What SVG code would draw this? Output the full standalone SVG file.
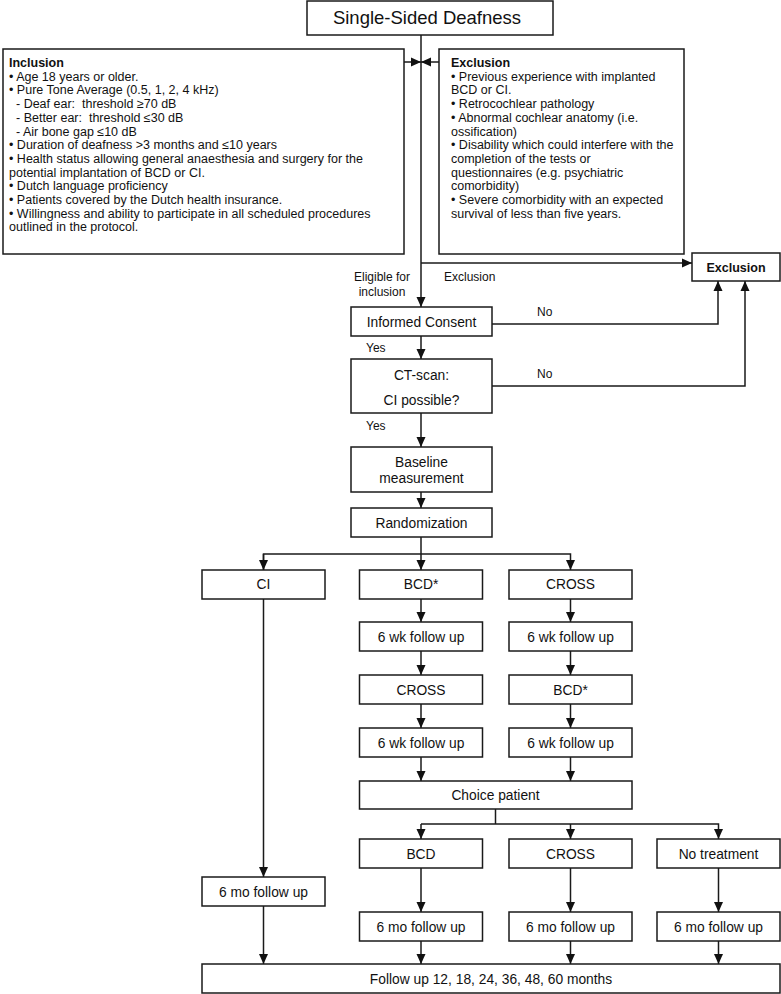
<svg xmlns="http://www.w3.org/2000/svg" width="781" height="994" viewBox="0 0 781 994">
<style>
.box{fill:#fff;stroke:#1a1a1a;stroke-width:1.5}
.c{fill:none;stroke:#1a1a1a;stroke-width:1.5}
text{font-family:"Liberation Sans",Arial,sans-serif;fill:#111}
.t{font-size:13.8px;text-anchor:middle}
.s{font-size:12.5px;white-space:pre}
.l{font-size:12px}
.b{font-weight:bold}
</style>
<defs>
<marker id="ah" markerUnits="userSpaceOnUse" markerWidth="10" markerHeight="10" viewBox="0 0 10 10" refX="10" refY="5" orient="auto">
<path d="M0,0.5 L10,5 L0,9.5 Z" fill="#111"/>
</marker>
</defs>
<g id="connectors">
<line class="c" x1="421" y1="35" x2="421" y2="307" marker-end="url(#ah)"/>
<line class="c" x1="404" y1="62" x2="421" y2="62" marker-end="url(#ah)"/>
<line class="c" x1="439" y1="62" x2="421" y2="62" marker-end="url(#ah)"/>
<line class="c" x1="421" y1="263" x2="692" y2="263" marker-end="url(#ah)"/>
<polyline class="c" points="492,324 718,324 718,281" marker-end="url(#ah)"/>
<polyline class="c" points="492,386 745,386 745,281" marker-end="url(#ah)"/>
<line class="c" x1="421" y1="336" x2="421" y2="359" marker-end="url(#ah)"/>
<line class="c" x1="421" y1="413" x2="421" y2="447" marker-end="url(#ah)"/>
<line class="c" x1="421" y1="492" x2="421" y2="508" marker-end="url(#ah)"/>
<polyline class="c" points="421,537 421,554"/>
<polyline class="c" points="263.5,570 263.5,554 570.5,554 570.5,570" marker-end="url(#ah)"/>
<line class="c" x1="263.5" y1="554" x2="263.5" y2="570" marker-end="url(#ah)"/>
<line class="c" x1="421" y1="554" x2="421" y2="570" marker-end="url(#ah)"/>
<line class="c" x1="263.5" y1="599" x2="263.5" y2="877" marker-end="url(#ah)"/>
<line class="c" x1="263.5" y1="906" x2="263.5" y2="964" marker-end="url(#ah)"/>
<line class="c" x1="421" y1="599" x2="421" y2="622" marker-end="url(#ah)"/>
<line class="c" x1="421" y1="651" x2="421" y2="675" marker-end="url(#ah)"/>
<line class="c" x1="421" y1="704" x2="421" y2="728" marker-end="url(#ah)"/>
<line class="c" x1="421" y1="757" x2="421" y2="781" marker-end="url(#ah)"/>
<line class="c" x1="570.5" y1="599" x2="570.5" y2="622" marker-end="url(#ah)"/>
<line class="c" x1="570.5" y1="651" x2="570.5" y2="675" marker-end="url(#ah)"/>
<line class="c" x1="570.5" y1="704" x2="570.5" y2="728" marker-end="url(#ah)"/>
<line class="c" x1="570.5" y1="757" x2="570.5" y2="781" marker-end="url(#ah)"/>
<polyline class="c" points="495.5,809 495.5,824"/>
<polyline class="c" points="421,824 718.5,824 718.5,839" marker-end="url(#ah)"/>
<line class="c" x1="421" y1="824" x2="421" y2="839" marker-end="url(#ah)"/>
<line class="c" x1="570.5" y1="824" x2="570.5" y2="839" marker-end="url(#ah)"/>
<line class="c" x1="421" y1="868" x2="421" y2="912" marker-end="url(#ah)"/>
<line class="c" x1="570.5" y1="868" x2="570.5" y2="912" marker-end="url(#ah)"/>
<line class="c" x1="718.5" y1="868" x2="718.5" y2="912" marker-end="url(#ah)"/>
<line class="c" x1="421" y1="941" x2="421" y2="964" marker-end="url(#ah)"/>
<line class="c" x1="570.5" y1="941" x2="570.5" y2="964" marker-end="url(#ah)"/>
<line class="c" x1="718.5" y1="941" x2="718.5" y2="964" marker-end="url(#ah)"/>
<text class="l" x="382" y="281" text-anchor="middle">Eligible for</text>
<text class="l" x="382" y="296" text-anchor="middle">inclusion</text>
<text class="l" x="444" y="281">Exclusion</text>
<text class="l" x="537" y="316">No</text>
<text class="l" x="537" y="377.5">No</text>
<text class="l" x="366" y="351.5">Yes</text>
<text class="l" x="366" y="430">Yes</text>
</g>
<g id="title">
<rect class="box" x="307" y="1" width="246" height="34"/>
<text x="427" y="24" font-size="18.5" text-anchor="middle">Single-Sided Deafness</text>
</g>
<g id="inclusion">
<rect class="box" x="3" y="49" width="401" height="205"/>
<text class="s b" x="9" y="67">Inclusion</text>
<text class="s" x="9" y="80.7">• Age 18 years or older.</text>
<text class="s" x="9" y="94.4">• Pure Tone Average (0.5, 1, 2, 4 kHz)</text>
<text class="s" x="16" y="108.1">- Deaf ear:  threshold ≥70 dB</text>
<text class="s" x="16" y="121.8">- Better ear:  threshold ≤30 dB</text>
<text class="s" x="16" y="135.5">- Air bone gap ≤10 dB</text>
<text class="s" x="9" y="149.2">• Duration of deafness &gt;3 months and ≤10 years</text>
<text class="s" x="9" y="162.9">• Health status allowing general anaesthesia and surgery for the</text>
<text class="s" x="9" y="176.6">potential implantation of BCD or CI.</text>
<text class="s" x="9" y="190.3">• Dutch language proficiency</text>
<text class="s" x="9" y="204">• Patients covered by the Dutch health insurance.</text>
<text class="s" x="9" y="217.7">• Willingness and ability to participate in all scheduled procedures</text>
<text class="s" x="9" y="231.4">outlined in the protocol.</text>
</g>
<g id="exclusion-criteria">
<rect class="box" x="439" y="49" width="245" height="205"/>
<text class="s b" x="451" y="67">Exclusion</text>
<text class="s" x="451" y="80.7">• Previous experience with implanted</text>
<text class="s" x="451" y="94.4">BCD or CI.</text>
<text class="s" x="451" y="108.1">• Retrocochlear pathology</text>
<text class="s" x="451" y="121.8">• Abnormal cochlear anatomy (i.e.</text>
<text class="s" x="451" y="135.5">ossification)</text>
<text class="s" x="451" y="149.2">• Disability which could interfere with the</text>
<text class="s" x="451" y="162.9">completion of the tests or</text>
<text class="s" x="451" y="176.6">questionnaires (e.g. psychiatric</text>
<text class="s" x="451" y="190.3">comorbidity)</text>
<text class="s" x="451" y="204">• Severe comorbidity with an expected</text>
<text class="s" x="451" y="217.7">survival of less than five years.</text>
</g>
<g id="exclusion">
<rect class="box" x="692" y="253" width="88" height="28"/>
<text class="t b" x="736" y="271.5" style="font-size:12.5px">Exclusion</text>
</g>
<g id="informed-consent">
<rect class="box" x="351" y="307" width="141" height="29"/>
<text class="t" x="421.5" y="326.5">Informed Consent</text>
</g>
<g id="ct-scan">
<rect class="box" x="351" y="359" width="141" height="54"/>
<text class="t" x="421.5" y="380">CT-scan:</text>
<text class="t" x="421.5" y="405">CI possible?</text>
</g>
<g id="baseline">
<rect class="box" x="351" y="447" width="141" height="45"/>
<text class="t" x="421.5" y="466.5">Baseline</text>
<text class="t" x="421.5" y="483">measurement</text>
</g>
<g id="randomization">
<rect class="box" x="351" y="508" width="141" height="29"/>
<text class="t" x="421.5" y="527.5">Randomization</text>
</g>
<g id="ci">
<rect class="box" x="202" y="570" width="123" height="29"/>
<text class="t" x="263.5" y="589">CI</text>
</g>
<g id="bcd1">
<rect class="box" x="359.5" y="570" width="123" height="29"/>
<text class="t" x="421" y="589">BCD*</text>
</g>
<g id="cross1">
<rect class="box" x="509" y="570" width="123" height="29"/>
<text class="t" x="570.5" y="589">CROSS</text>
</g>
<g id="fu6wk-a1">
<rect class="box" x="359.5" y="622" width="123" height="29"/>
<text class="t" x="421" y="641.5">6 wk follow up</text>
</g>
<g id="fu6wk-b1">
<rect class="box" x="509" y="622" width="123" height="29"/>
<text class="t" x="570.5" y="641.5">6 wk follow up</text>
</g>
<g id="cross2">
<rect class="box" x="359.5" y="675" width="123" height="29"/>
<text class="t" x="421" y="694.5">CROSS</text>
</g>
<g id="bcd2">
<rect class="box" x="509" y="675" width="123" height="29"/>
<text class="t" x="570.5" y="694.5">BCD*</text>
</g>
<g id="fu6wk-a2">
<rect class="box" x="359.5" y="728" width="123" height="29"/>
<text class="t" x="421" y="747.5">6 wk follow up</text>
</g>
<g id="fu6wk-b2">
<rect class="box" x="509" y="728" width="123" height="29"/>
<text class="t" x="570.5" y="747.5">6 wk follow up</text>
</g>
<g id="choice">
<rect class="box" x="359.5" y="781" width="272.5" height="28"/>
<text class="t" x="495.5" y="800">Choice patient</text>
</g>
<g id="bcd3">
<rect class="box" x="359.5" y="839" width="123" height="29"/>
<text class="t" x="421" y="858.5">BCD</text>
</g>
<g id="cross3">
<rect class="box" x="509" y="839" width="123" height="29"/>
<text class="t" x="570.5" y="858.5">CROSS</text>
</g>
<g id="no-treatment">
<rect class="box" x="657" y="839" width="123" height="29"/>
<text class="t" x="718.5" y="858.5">No treatment</text>
</g>
<g id="fu6mo-ci">
<rect class="box" x="202" y="877" width="123" height="29"/>
<text class="t" x="263.5" y="896.5">6 mo follow up</text>
</g>
<g id="fu6mo-bcd">
<rect class="box" x="359.5" y="912" width="123" height="29"/>
<text class="t" x="421" y="931.5">6 mo follow up</text>
</g>
<g id="fu6mo-cross">
<rect class="box" x="509" y="912" width="123" height="29"/>
<text class="t" x="570.5" y="931.5">6 mo follow up</text>
</g>
<g id="fu6mo-none">
<rect class="box" x="657" y="912" width="123" height="29"/>
<text class="t" x="718.5" y="931.5">6 mo follow up</text>
</g>
<g id="final">
<rect class="box" x="202" y="964" width="578" height="29"/>
<text class="t" x="491" y="984">Follow up 12, 18, 24, 36, 48, 60 months</text>
</g>
</svg>
